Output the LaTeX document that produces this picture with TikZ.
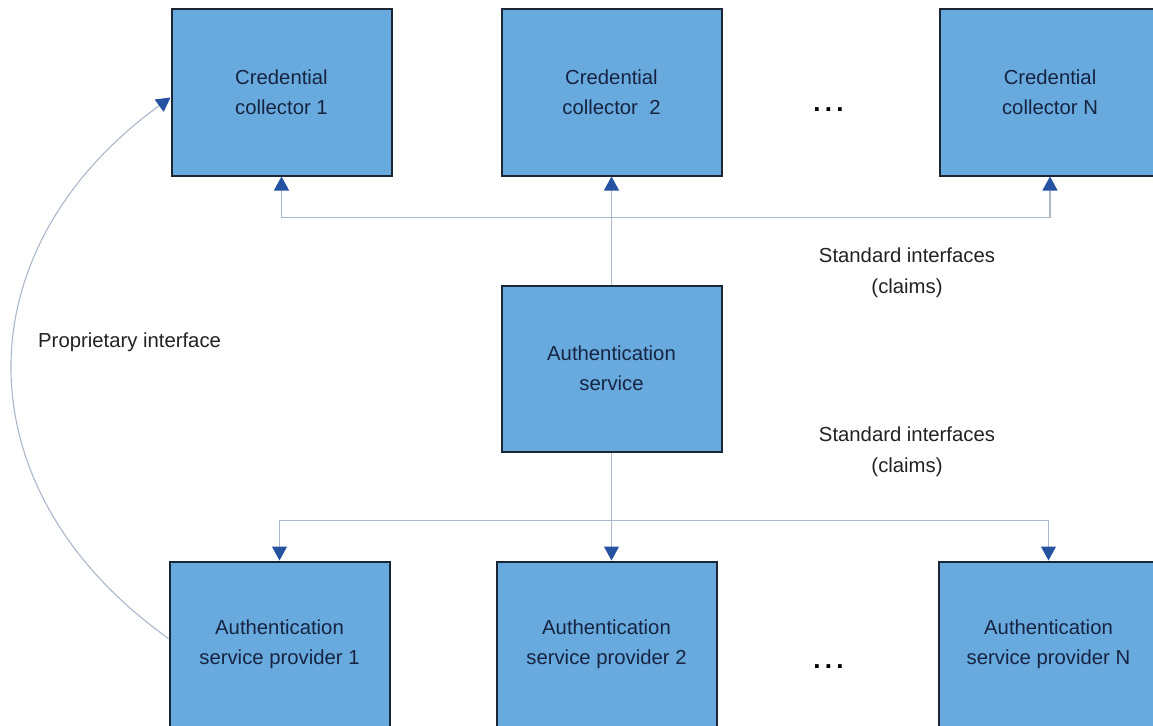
\documentclass[tikz,border=0pt]{standalone}
\usepackage{fontspec}
\setmainfont{Liberation Sans}
\usetikzlibrary{arrows.meta}

\definecolor{boxfill}{RGB}{104,170,222}
\definecolor{boxline}{RGB}{26,37,53}
\definecolor{boxtext}{RGB}{22,36,66}
\definecolor{linecol}{RGB}{170,184,204}
\definecolor{tipcol}{RGB}{38,82,162}
\definecolor{labeltext}{RGB}{34,34,34}

\begin{document}
\begin{tikzpicture}[x=1pt,y=-1pt,
  unitbox/.style={draw=boxline, line width=2pt, fill=boxfill, text=boxtext,
    minimum width=220pt, minimum height=166pt, inner sep=0pt,
    align=center, font=\fontsize{20.3}{30}\selectfont},
  note/.style={text=labeltext, align=center, inner sep=0pt,
    font=\fontsize{20.3}{31}\selectfont},
  ellipsis/.style={text=black, inner sep=0pt, font=\fontsize{26}{30}\selectfont\bfseries},
  conn/.style={draw=linecol, line width=1.1pt},
  tip/.style={-{Triangle[width=15pt,length=14pt,color=tipcol]}}]

\useasboundingbox (0,0) rectangle (1153,725);
\clip (0,0) rectangle (1153,725);
\fill[white] (0,0) rectangle (1153,725);

% credential collectors
\node[unitbox] (cc1) at (281.5,92.5) {Credential\\collector 1};
\node[unitbox] (cc2) at (611.5,92.5) {Credential\\collector\ \ 2};
\node[unitbox] (ccn) at (1050,92.5) {Credential\\collector N};
\node[ellipsis] (dotstop) at (828.5,110) {.\hspace{4.3pt}.\hspace{4.3pt}.};

% central service
\node[unitbox] (auth) at (611.5,368.5) {Authentication\\service};

% service providers
\node[unitbox] (asp1) at (279.5,644.5) {Authentication\\service provider 1};
\node[unitbox] (asp2) at (606.5,644.5) {Authentication\\service provider 2};
\node[unitbox] (aspn) at (1048.5,644.5) {Authentication\\service provider N};
\node[ellipsis] (dotsbot) at (828.5,667) {.\hspace{4.3pt}.\hspace{4.3pt}.};

% labels
\node[note] (stdtop) at (907,272.5) {Standard interfaces\\(claims)};
\node[note] (stdbot) at (907,452) {Standard interfaces\\(claims)};
\node[note, anchor=west] (prop) at (38,342) {Proprietary interface};

% buses
\path (auth.north) ++(0,-67) coordinate (topbus);
\path (auth.south) ++(0,68) coordinate (botbus);

\draw[conn,tip] (auth.north) -- (cc2.south);
\draw[conn,tip] (topbus) -| (cc1.south);
\draw[conn,tip] (topbus) -| (ccn.south);

\draw[conn,tip] (auth.south) -- (auth.south |- asp2.north);
\draw[conn,tip] (botbus) -| (asp1.north);
\draw[conn,tip] (botbus) -| (aspn.north);

% proprietary link
\draw[conn,tip] ([yshift=6pt]asp1.west) .. controls +(-208,-148) and +(-211,153) .. ([yshift=-5pt]cc1.west);

\end{tikzpicture}
\end{document}
